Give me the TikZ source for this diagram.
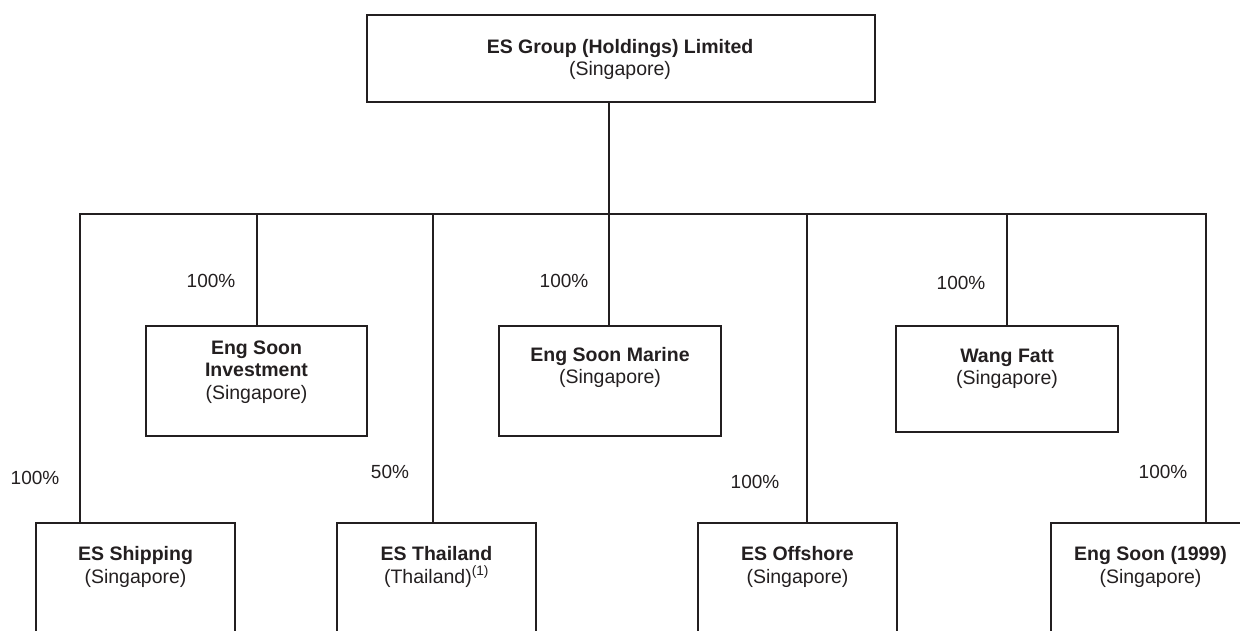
\documentclass[tikz,border=0pt]{standalone}
\usepackage{fontspec}
\setmainfont{Liberation Sans}
\definecolor{ink}{HTML}{231F20}
\begin{document}
\begin{tikzpicture}[x=1pt,y=-1pt,
  box/.style={draw=ink, line width=1.3pt, rectangle, inner sep=0pt},
  lbl/.style={font=\fontsize{19.5}{22.5}\selectfont, align=center, anchor=base, inner sep=0pt, text=ink},
  pct/.style={font=\fontsize{19}{22}\selectfont, inner sep=0pt, text=ink},
  link/.style={draw=ink, line width=1.3pt}]
\useasboundingbox (0,0) rectangle (1240,630);
\clip (0,0) rectangle (1240,630);

% boxes
\node[box, minimum width=508pt, minimum height=87pt] (top) at (621,58.5) {};
\node[box, minimum width=221pt, minimum height=110pt] (inv) at (256.5,381) {};
\node[box, minimum width=222pt, minimum height=110pt] (mar) at (610,381) {};
\node[box, minimum width=222pt, minimum height=106pt] (wang) at (1007,379) {};
\node[box, minimum width=199pt, minimum height=157pt] (ship) at (135.5,601.5) {};
\node[box, minimum width=199pt, minimum height=157pt] (thai) at (436.5,601.5) {};
\node[box, minimum width=199pt, minimum height=157pt] (off) at (797.5,601.5) {};
\node[box, minimum width=199pt, minimum height=157pt] (e99) at (1150.5,601.5) {};

% texts (anchor = baseline of the last line)
\node[lbl] (topt) at (620,75.5) {\textbf{ES Group (Holdings) Limited}\\(Singapore)};
\node[lbl] (invt) at (256.5,399) {\textbf{Eng Soon}\\\textbf{Investment}\\(Singapore)};
\node[lbl] (mart) at (610,383.5) {\textbf{Eng Soon Marine}\\(Singapore)};
\node[lbl] (wangt) at (1007,384.5) {\textbf{Wang Fatt}\\(Singapore)};
\node[lbl] (shipt) at (135.5,583) {\textbf{ES Shipping}\\(Singapore)};
\node[lbl] (thait) at (436.5,583) {\textbf{ES Thailand}\\(Thailand)\textsuperscript{(1)}};
\node[lbl] (offt) at (797.5,583) {\textbf{ES Offshore}\\(Singapore)};
\node[lbl] (e99t) at (1150.5,583) {\textbf{Eng Soon (1999)}\\(Singapore)};

% bar coordinates
\coordinate (bL) at (80,214);
\coordinate (bR) at (1206,214);
\coordinate (bInv) at (257,214);
\coordinate (bThai) at (433,214);
\coordinate (bM) at (609,214);
\coordinate (bOff) at (807,214);
\coordinate (bWang) at (1007,214);

% connectors
\draw[link] (top.south -| bM) -- (bM);
\draw[link] (ship.north -| bL) -- (bL) -- (bR) -- (e99.north -| bR);
\draw[link] (bInv) -- (inv.north -| bInv);
\draw[link] (bThai) -- (thai.north -| bThai);
\draw[link] (bM) -- (mar.north -| bM);
\draw[link] (bOff) -- (off.north -| bOff);
\draw[link] (bWang) -- (wang.north -| bWang);

% percentages
\node[pct] (p1) at (35,478) {100\%};
\node[pct] (p2) at (211,281) {100\%};
\node[pct] (p3) at (390,472) {50\%};
\node[pct] (p4) at (564,281) {100\%};
\node[pct] (p5) at (755,482) {100\%};
\node[pct] (p6) at (961,283) {100\%};
\node[pct] (p7) at (1163,472) {100\%};
\end{tikzpicture}
\end{document}
